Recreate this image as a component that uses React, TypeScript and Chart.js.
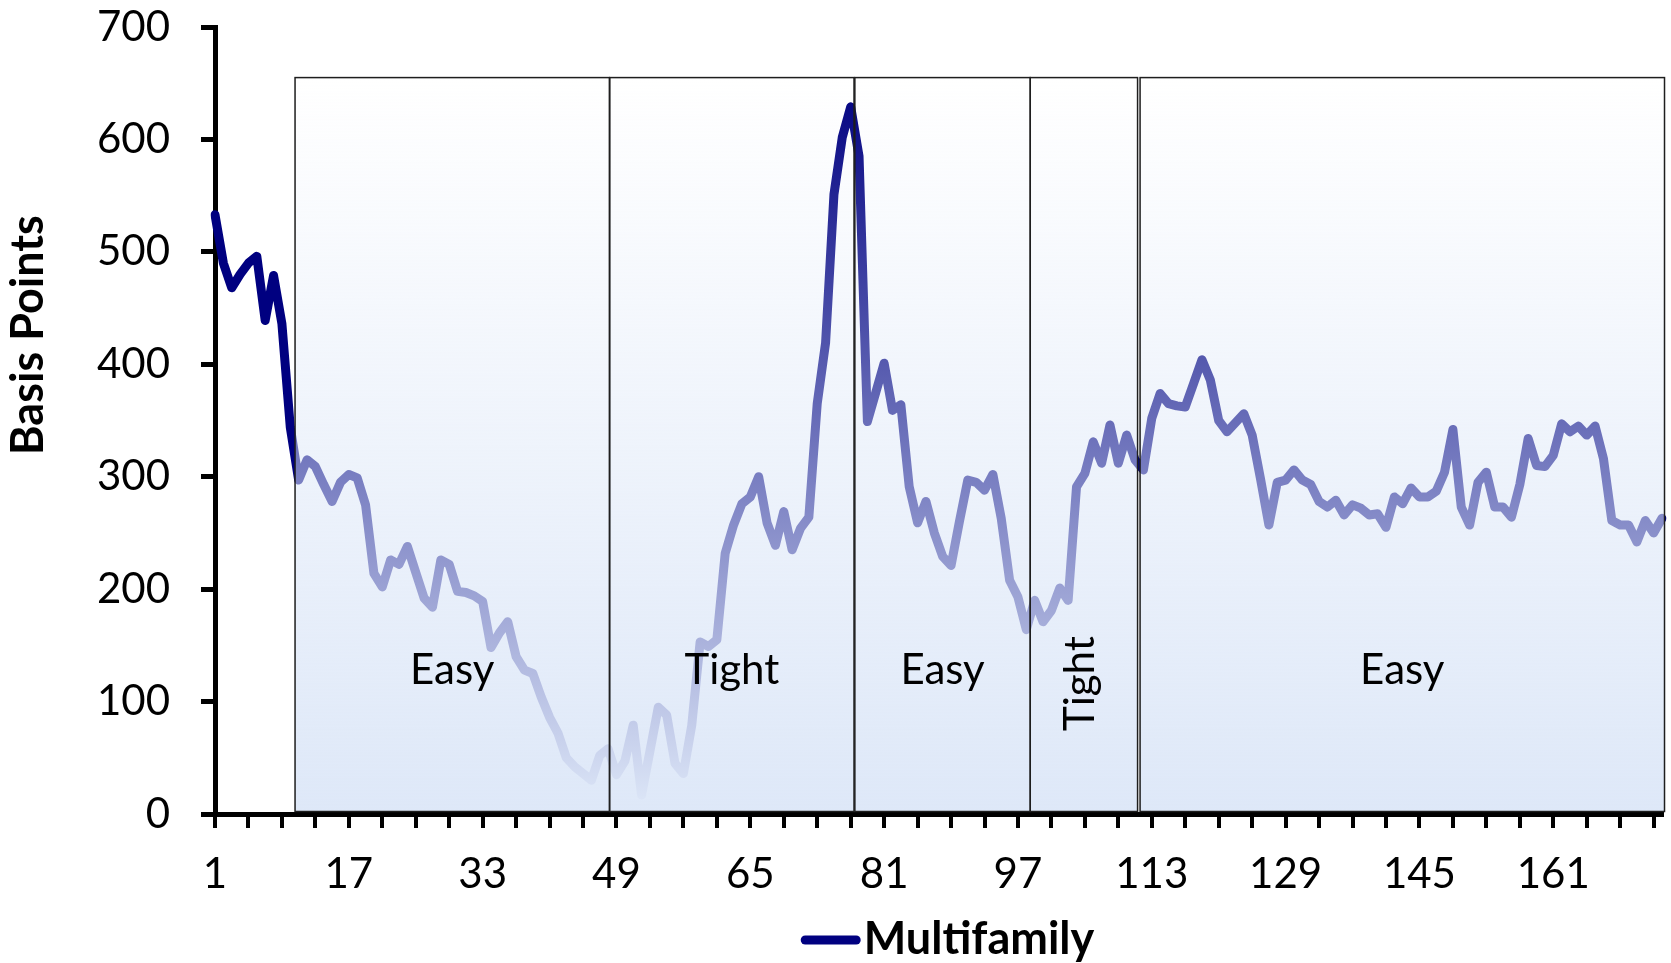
import React, { useEffect, useRef } from "react";
import { Chart, registerables } from "chart.js";

Chart.register(...registerables);

// ---- data -------------------------------------------------------------
const VALUES: number[] = [
  533, 490, 468, 480, 490, 496, 439, 479, 436, 344,
  297, 315, 309, 293, 278, 295, 302, 299, 275, 214,
  202, 226, 222, 238, 215, 192, 184, 226, 222, 198,
  197, 194, 189, 148, 161, 171, 140, 128, 125, 104,
  86, 72, 50, 42, 36, 30, 52, 58, 35, 47,
  79, 17, 56, 95, 88, 45, 36, 79, 153, 149,
  155, 232, 257, 276, 282, 300, 259, 239, 269, 235,
  254, 264, 365, 419, 551, 602, 629, 585, 349, 375,
  401, 359, 364, 291, 259, 278, 250, 229, 221, 260,
  297, 295, 288, 302, 263, 208, 193, 164, 190, 171,
  181, 201, 190, 291, 303, 331, 312, 346, 312, 337,
  315, 306, 352, 374, 365, 363, 362, 383, 404, 386,
  350, 340, 348, 356, 337, 298, 257, 295, 297, 306,
  297, 293, 278, 273, 279, 266, 275, 272, 266, 267,
  255, 282, 276, 290, 282, 282, 287, 304, 342, 273,
  257, 295, 304, 273, 273, 264, 293, 334, 310, 309,
  319, 347, 340, 345, 337, 345, 316, 261, 257, 257,
  242, 261, 250, 263,
];
const CATEGORIES: string[] = VALUES.map((_, i) => String(i + 1));
const SERIES_NAME = "Multifamily";
const Y_TITLE = "Basis Points";
const Y_MIN = 0;
const Y_MAX = 700;
const Y_STEP = 100;
const TICK_EVERY = 4;
const LABEL_EVERY = 16;

// regimes (in category numbers, 1-based)
const REGION_LABELS = ["Easy", "Tight", "Easy", "Tight", "Easy"];
const REGION_FROM = [10.57, 48.2, 77.5, 98.47, 111.6];
const REGION_TO = [48.15, 77.4, 98.47, 111.3, 174.3];
const REGION_VERTICAL = [false, false, false, true, false];
const REGION_TOP_VALUE = 655;
const REGION_LABEL_VALUE = 116;
const Y_TITLE_CENTER_VALUE = 426;

// ---- styles -----------------------------------------------------------
const NAVY = "#000080";
const FONT = "Lato";

const regionsPlugin = {
  id: "regions",
  afterDatasetsDraw(chart: any) {
    const { ctx, scales } = chart;
    const xs = scales.x;
    const ys = scales.y;
    const top = ys.getPixelForValue(REGION_TOP_VALUE);
    const bottom = ys.getPixelForValue(0) - 2.5;
    ctx.save();
    for (let k = 0; k < REGION_LABELS.length; k++) {
      const x1 = xs.getPixelForValue(REGION_FROM[k] - 1);
      const x2 = xs.getPixelForValue(REGION_TO[k] - 1);
      const g = ctx.createLinearGradient(0, top, 0, bottom);
      g.addColorStop(0, "rgba(222,232,248,0)");
      g.addColorStop(1, "rgba(222,232,248,1)");
      ctx.fillStyle = g;
      ctx.fillRect(x1, top, x2 - x1, bottom - top);
      ctx.strokeStyle = "#1e1e1e";
      ctx.lineWidth = 1.5;
      ctx.strokeRect(x1, top, x2 - x1, bottom - top);
    }
    ctx.fillStyle = "#000";
    ctx.font = `42px ${FONT}`;
    ctx.textAlign = "center";
    ctx.textBaseline = "alphabetic";
    for (let k = 0; k < REGION_LABELS.length; k++) {
      const x1 = xs.getPixelForValue(REGION_FROM[k] - 1);
      const x2 = xs.getPixelForValue(REGION_TO[k] - 1);
      const cx = (x1 + x2) / 2;
      if (REGION_VERTICAL[k]) {
        ctx.save();
        ctx.translate(cx + 10, ys.getPixelForValue(REGION_LABEL_VALUE));
        ctx.rotate(-Math.PI / 2);
        ctx.fillText(REGION_LABELS[k], 0, 0);
        ctx.restore();
      } else {
        ctx.fillText(REGION_LABELS[k], cx, ys.getPixelForValue(REGION_LABEL_VALUE));
      }
    }
    ctx.restore();
  },
};

const yTitlePlugin = {
  id: "yTitle",
  afterDraw(chart: any) {
    const { ctx, scales } = chart;
    ctx.save();
    ctx.translate(28, scales.y.getPixelForValue(Y_TITLE_CENTER_VALUE));
    ctx.rotate(-Math.PI / 2);
    ctx.font = `bold 45px ${FONT}`;
    ctx.fillStyle = "#000";
    ctx.textAlign = "center";
    ctx.textBaseline = "middle";
    ctx.fillText(Y_TITLE, 0, 0);
    ctx.restore();
  },
};

// legend: a round-capped navy line sample followed by the series name,
// centred under the plot area
const legendPlugin = {
  id: "seriesLegend",
  afterDraw(chart: any) {
    const { ctx, chartArea } = chart;
    const ds = chart.data.datasets[0];
    ctx.save();
    ctx.font = `bold 45px ${FONT}`;
    const tw = ctx.measureText(ds.label).width;
    const sample = 51;
    const gap = 12;
    const total = sample + gap + tw;
    const cx = (chartArea.left + chartArea.right) / 2 + 9;
    const x0 = cx - total / 2;
    const yMid = 940;
    ctx.strokeStyle = ds.borderColor;
    ctx.lineWidth = 9;
    ctx.lineCap = "round";
    ctx.beginPath();
    ctx.moveTo(x0 + 4.5, yMid);
    ctx.lineTo(x0 + 4.5 + sample, yMid);
    ctx.stroke();
    ctx.fillStyle = "#000";
    ctx.textAlign = "left";
    ctx.textBaseline = "alphabetic";
    ctx.fillText(ds.label, x0 + sample + gap, 954);
    ctx.restore();
  },
};

export default function App() {
  const ref = useRef<HTMLCanvasElement>(null);
  useEffect(() => {
    document.body.style.margin = "0";
    const canvas = ref.current;
    if (!canvas) return;
    const chart = new Chart(canvas, {
      type: "line",
      data: {
        labels: CATEGORIES,
        datasets: [
          {
            label: SERIES_NAME,
            data: VALUES,
            borderColor: NAVY,
            backgroundColor: NAVY,
            borderWidth: 9,
            pointRadius: 0,
            pointHoverRadius: 0,
            tension: 0,
            borderJoinStyle: "round",
            borderCapStyle: "round",
            fill: false,
          },
        ],
      },
      options: {
        responsive: false,
        animation: false,
        events: [],
        layout: { padding: { top: 27, right: 9, bottom: 0, left: 0 } },
        plugins: {
          tooltip: { enabled: false },
          legend: { display: false },
        },
        scales: {
          x: {
            type: "category",
            offset: false,
            grid: {
              display: true,
              drawOnChartArea: false,
              drawTicks: true,
              tickLength: 14,
              lineWidth: 4,
              color: "#000",
            },
            border: { display: true, color: "#000", width: 5 },
            ticks: {
              autoSkip: false,
              maxRotation: 0,
              minRotation: 0,
              padding: 21,
              color: "#000",
              font: { family: FONT, size: 42 },
              callback: (value: any) =>
                Number(value) % LABEL_EVERY === 0 ? CATEGORIES[Number(value)] : "",
            },
            afterBuildTicks: (scale: any) => {
              scale.ticks = scale.ticks.filter((t: any) => t.value % TICK_EVERY === 0);
            },
            afterFit: (scale: any) => {
              scale.height = 149;
              scale.paddingLeft = 0;
              scale.paddingRight = 0;
            },
          },
          y: {
            min: Y_MIN,
            max: Y_MAX,
            grid: {
              display: true,
              drawOnChartArea: false,
              drawTicks: true,
              tickLength: 14,
              lineWidth: 5,
              color: "#000",
            },
            border: { display: true, color: "#000", width: 5 },
            ticks: {
              stepSize: Y_STEP,
              padding: 31,
              color: "#000",
              font: { family: FONT, size: 42 },
            },
            afterFit: (scale: any) => {
              scale.width = 215;
              scale.paddingTop = 0;
              scale.paddingBottom = 0;
            },
          },
        },
      },
      plugins: [regionsPlugin, yTitlePlugin, legendPlugin],
    } as any);
    return () => chart.destroy();
  }, []);
  return (
    <div style={{ width: 1671, height: 963, position: "relative", overflow: "hidden" }}>
      <canvas ref={ref} width={1671} height={963} style={{ display: "block", width: 1671, height: 963 }} />
    </div>
  );
}
